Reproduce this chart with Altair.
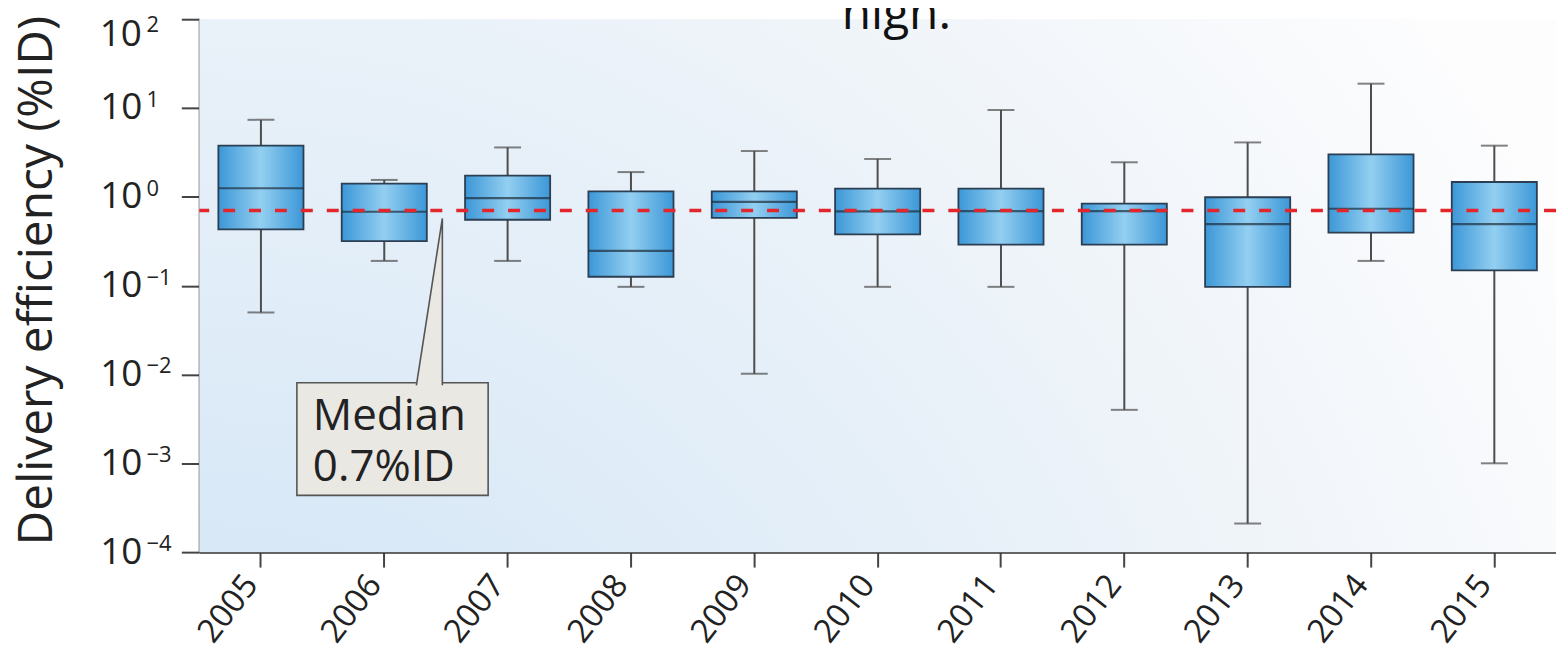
import altair as alt
import pandas as pd

# ---- data ----
years = ["2005", "2006", "2007", "2008", "2009", "2010",
         "2011", "2012", "2013", "2014", "2015"]
whisker_low = [0.05, 0.19, 0.19, 0.097, 0.0102, 0.097, 0.097, 0.004, 0.00021, 0.19, 0.001]
q1 = [0.43, 0.318, 0.552, 0.126, 0.58, 0.378, 0.29, 0.29, 0.097, 0.395, 0.149]
median = [1.25, 0.68, 0.966, 0.246, 0.88, 0.686, 0.69, 0.69, 0.493, 0.735, 0.493]
q3 = [3.77, 1.41, 1.73, 1.15, 1.15, 1.24, 1.24, 0.84, 0.99, 3.0, 1.47]
whisker_high = [7.36, 1.55, 3.6, 1.9, 3.28, 2.67, 9.5, 2.45, 4.1, 18.8, 3.77]
overall_median = 0.7

tick_values = [1e-4, 1e-3, 1e-2, 1e-1, 1e0, 1e1]
tick_exponents = ["\u22124", "\u22123", "\u22122", "\u22121", "0", "1"]
top_tick = [1e2]
top_exponent = ["2"]

annotation_line1 = "Median"
annotation_line2 = "0.7%ID"
top_text = "high."

df = pd.DataFrame({
    "year": years, "low": whisker_low, "q1": q1, "median": median,
    "q3": q3, "high": whisker_high,
})
exp_df = pd.DataFrame({"v": tick_values, "e": tick_exponents})
top_df = pd.DataFrame({"v": top_tick, "e": top_exponent})

W, H = 1362, 535
FONT = "Open Sans"
INK = "#222"

x_enc = alt.X("year:N", sort=years, title=None,
              scale=alt.Scale(paddingInner=0.31, paddingOuter=0.155),
              axis=alt.Axis(labelAngle=308, labelAlign="right", labelBaseline="top",
                            labelFontSize=33, labelFont=FONT, labelColor=INK,
                            tickSize=15, tickWidth=2, tickColor="#444",
                            labelPadding=2, labelOffset=-22,
                            domainColor="#333", domainWidth=2))
y_scale = alt.Scale(type="log", domain=[1e-4, 1e2], nice=False)

base = alt.Chart(df)
one = pd.DataFrame({"k": [0]})

background = alt.Chart(one).mark_rect(
    fill={"gradient": "radial",
          "stops": [{"offset": 0, "color": "#cae0f4"},
                    {"offset": 0.4, "color": "#dfecf8"},
                    {"offset": 0.72, "color": "#eff4f9"},
                    {"offset": 1, "color": "#fdfdfe"}],
          "x1": 0, "y1": 1, "r1": 0, "x2": 0, "y2": 1, "r2": 1.15}
).encode(x=alt.value(0), x2=alt.value(W), y=alt.value(0), y2=alt.value(H))

whiskers = base.mark_rule(color="#4d4d4d", strokeWidth=2).encode(
    x=x_enc,
    y=alt.Y("low:Q", scale=y_scale,
            axis=alt.Axis(values=tick_values + top_tick,
                          labelExpr="datum.value >= 100 ? '' : '10'", labelFont=FONT,
                          labelFontSize=37, labelColor=INK, labelAlign="left",
                          labelBaseline="middle", labelPadding=82, tickSize=18,
                          tickWidth=2, tickColor="#444", domainColor="#333",
                          domainWidth=2, grid=False,
                          title="Delivery efficiency (%ID)", titleFont=FONT,
                          titleFontSize=48, titleFontWeight="normal", titleColor=INK,
                          titleAngle=270, titleAlign="center",
                          titleBaseline="alphabetic", titleX=-148, titleY=262)),
    y2="high:Q",
)
caps_low = base.mark_tick(color="#4d4d4d", size=27, thickness=2).encode(
    x=x_enc, y=alt.Y("low:Q", scale=y_scale))
caps_high = base.mark_tick(color="#4d4d4d", size=27, thickness=2).encode(
    x=x_enc, y=alt.Y("high:Q", scale=y_scale))

boxes = base.mark_bar(
    fill={"gradient": "linear",
          "stops": [{"offset": 0, "color": "#3c97d7"},
                    {"offset": 0.5, "color": "#93cff1"},
                    {"offset": 1, "color": "#3c97d7"}],
          "x1": 0, "y1": 0, "x2": 1, "y2": 0},
    stroke="#2b3e52", strokeWidth=1.8,
).encode(x=x_enc, y=alt.Y("q1:Q", scale=y_scale), y2="q3:Q")

medians = base.mark_tick(color="#1e2c3a", size=85, thickness=2.2).encode(
    x=x_enc, y=alt.Y("median:Q", scale=y_scale))

median_line = alt.Chart(one).mark_rule(
    color="#e3262b", strokeWidth=3.5, strokeDash=[12, 14]
).encode(y=alt.datum(overall_median, scale=y_scale))

exponents = alt.Chart(exp_df).mark_text(
    align="left", baseline="alphabetic", fontSize=22, font=FONT, color=INK, dy=-1
).encode(x=alt.value(-53), y=alt.Y("v:Q", scale=y_scale), text="e:N")

top_ten = alt.Chart(top_df).mark_text(
    align="left", baseline="middle", fontSize=37, font=FONT, color=INK, dy=16
).encode(x=alt.value(-100), y=alt.Y("v:Q", scale=y_scale), text=alt.value("10"))
top_exp = alt.Chart(top_df).mark_text(
    align="left", baseline="alphabetic", fontSize=22, font=FONT, color=INK, dy=13
).encode(x=alt.value(-53), y=alt.Y("v:Q", scale=y_scale), text="e:N")

# annotation call-out
ann_box = alt.Chart(one).mark_rect(
    fill="#e9e8e3", stroke="#555", strokeWidth=1.6
).encode(x=alt.value(98), x2=alt.value(290), y=alt.value(365), y2=alt.value(478))

pointer = alt.Chart(one).mark_point(
    shape="M-0.158,1.03 L0.158,-1 L0.158,1.03",
    size=27225, filled=True, fill="#e9e8e3", stroke="#555", strokeWidth=1.6, opacity=1
).encode(x=alt.value(231), y=alt.value(282.5))

ann_text1 = alt.Chart(one).mark_text(
    align="left", baseline="alphabetic", fontSize=44, font=FONT, color=INK
).encode(x=alt.value(114), y=alt.value(412), text=alt.value(annotation_line1))
ann_text2 = alt.Chart(one).mark_text(
    align="left", baseline="alphabetic", fontSize=44, font=FONT, color=INK
).encode(x=alt.value(114), y=alt.value(464), text=alt.value(annotation_line2))

top_label = alt.Chart(one).mark_text(
    align="left", baseline="alphabetic", fontSize=48, font=FONT, color="#111"
).encode(x=alt.value(645), y=alt.value(10), text=alt.value(top_text))

chart = alt.layer(
    background, ann_box, pointer, ann_text1, ann_text2, whiskers, caps_low, caps_high,
    boxes, medians, median_line, exponents, top_ten, top_exp, top_label
).resolve_scale(y="shared").properties(
    width=W, height=H,
    autosize=alt.AutoSizeParams(type="none"),
    padding={"left": 192, "top": 10, "right": 0, "bottom": 99},
).configure_view(stroke=None)

chart.save("out.html", embed_options={"renderer": "svg", "actions": False})
